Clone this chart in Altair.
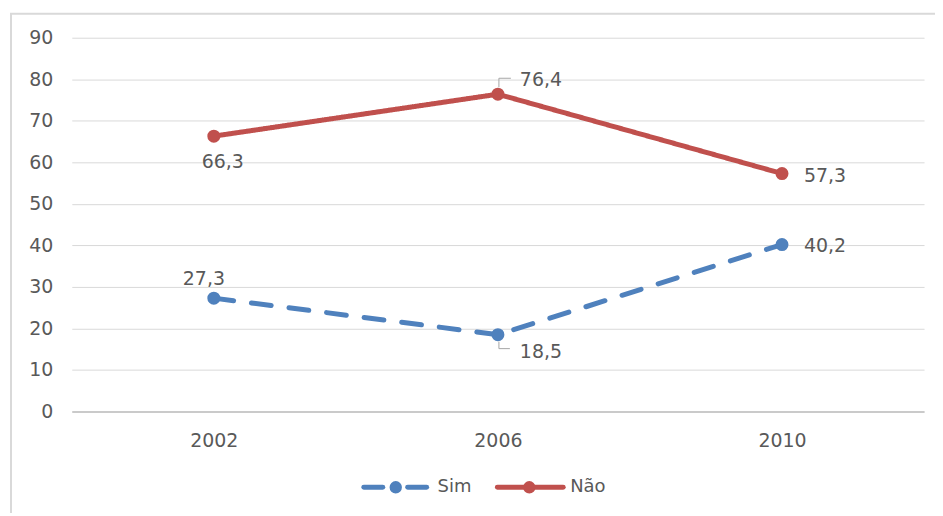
import altair as alt
import pandas as pd

# ---- data ----
years = ["2002", "2006", "2010"]
series = ["Sim", "Não"]
sim_values = [27.3, 18.5, 40.2]
nao_values = [66.3, 76.4, 57.3]
y_ticks = [0, 10, 20, 30, 40, 50, 60, 70, 80, 90]

rows = []
for s, vals in zip(series, [sim_values, nao_values]):
    for yr, v in zip(years, vals):
        rows.append({"serie": s, "ano": yr, "valor": v,
                     "rotulo": f"{v:.1f}".replace(".", ",")})
df = pd.DataFrame(rows)

# ---- styles ----
BLUE = "#4F81BD"
RED = "#C0504D"
TEXT = "#595959"
GRID = "#D9D9D9"
FONT = "DejaVu Sans"
FS = 19
W, H = 855, 375

# label placements (dx, dy, align) per (serie, ano)
label_pos = {
    ("Sim", "2002"): (-10, -19, "center"),
    ("Sim", "2006"): (22, 17, "left"),
    ("Sim", "2010"): (22, 1, "left"),
    ("Não", "2002"): (9, 26, "center"),
    ("Não", "2006"): (22, -14, "left"),
    ("Não", "2010"): (22, 2, "left"),
}

x_enc = alt.X("ano:N", scale=alt.Scale(type="point", padding=0.5),
              axis=alt.Axis(title=None, labelAngle=0, ticks=False, domain=True,
                            domainColor="#BFBFBF", domainWidth=1.5,
                            labelPadding=20, labelFont=FONT, labelFontSize=FS,
                            labelColor=TEXT, grid=False))
y_enc = alt.Y("valor:Q", scale=alt.Scale(domain=[0, 90], nice=False),
              axis=alt.Axis(title=None, values=y_ticks, ticks=False, domain=False,
                            labelPadding=19, labelFont=FONT, labelFontSize=FS,
                            labelColor=TEXT, grid=True, gridColor=GRID, gridWidth=1))

color_scale = alt.Scale(domain=series, range=[BLUE, RED])
dash_scale = alt.Scale(domain=series, range=[[20, 18], [1, 0]])

base = alt.Chart(df)

lines = base.mark_line(strokeWidth=5, strokeCap="round").encode(
    x=x_enc, y=y_enc,
    color=alt.Color("serie:N", scale=color_scale, legend=None),
    strokeDash=alt.StrokeDash("serie:N", scale=dash_scale, legend=None),
)

points = base.mark_circle(size=170, opacity=1).encode(
    x="ano:N", y="valor:Q",
    color=alt.Color("serie:N", scale=color_scale, legend=None),
)

# leader lines for the two offset labels
LEADER = "#A6A6A6"
nao06 = base.transform_filter("datum.serie == 'Não' && datum.ano == '2006'")
sim06 = base.transform_filter("datum.serie == 'Sim' && datum.ano == '2006'")
leaders = [
    nao06.mark_rule(color=LEADER, strokeWidth=1, xOffset=1, yOffset=-7, y2Offset=-16)
    .encode(x="ano:N", y="valor:Q", y2="valor:Q"),
    nao06.mark_rule(color=LEADER, strokeWidth=1, xOffset=1, x2Offset=13, yOffset=-16)
    .encode(x="ano:N", x2="ano:N", y="valor:Q"),
    sim06.mark_rule(color=LEADER, strokeWidth=1, xOffset=1, yOffset=7, y2Offset=14)
    .encode(x="ano:N", y="valor:Q", y2="valor:Q"),
    sim06.mark_rule(color=LEADER, strokeWidth=1, xOffset=1, x2Offset=12, yOffset=14)
    .encode(x="ano:N", x2="ano:N", y="valor:Q"),
]

labels = []
for (s, yr), (dx, dy, al) in label_pos.items():
    labels.append(
        base.transform_filter(f"datum.serie == '{s}' && datum.ano == '{yr}'")
        .mark_text(dx=dx, dy=dy, align=al, baseline="middle", font=FONT,
                   fontSize=FS, color=TEXT)
        .encode(x="ano:N", y="valor:Q", text="rotulo:N")
    )

# ---- legend (drawn below the plot, positions in pixels from plot origin) ----
LEG_Y = 451
legend_items = {
    # serie: (line segments [(x1, x2)], dot x, text x, colour)
    "Sim": ([(293, 312), (337, 356)], 325, 367, BLUE),
    "Não": ([(427, 493)], 459, 500, RED),
}
legend_layers = []
for s in series:
    segs, dot_x, txt_x, col = legend_items[s]
    ldf = alt.Chart(pd.DataFrame({"serie": [s]}))
    for x1, x2 in segs:
        legend_layers.append(
            ldf.mark_rule(color=col, strokeWidth=5, strokeCap="round").encode(
                x=alt.value(x1), x2=alt.value(x2), y=alt.value(LEG_Y))
        )
    legend_layers.append(
        ldf.mark_circle(color=col, size=154, opacity=1).encode(
            x=alt.value(dot_x), y=alt.value(LEG_Y))
    )
    legend_layers.append(
        ldf.mark_text(align="left", baseline="middle", font=FONT, fontSize=18,
                      color=TEXT).encode(
            x=alt.value(txt_x), y=alt.value(LEG_Y), text="serie:N")
    )

# outer chart border (decorative frame)
frame = alt.Chart(pd.DataFrame({"k": [0]})).mark_rect(
    fill="transparent", stroke=GRID, strokeWidth=2
).encode(x=alt.value(-61), y=alt.value(-24), x2=alt.value(W + 80), y2=alt.value(H + 160))

chart = (
    alt.layer(frame, lines, points, *leaders, *labels, *legend_layers)
    .properties(
        width=W, height=H,
        autosize=alt.AutoSizeParams(type="none"),
        padding={"left": 64, "top": 29, "right": 11, "bottom": 101},
    )
    .configure(background="white")
    .configure_view(strokeWidth=0)
)

chart.save("out.html", embed_options={"renderer": "svg", "actions": False})
